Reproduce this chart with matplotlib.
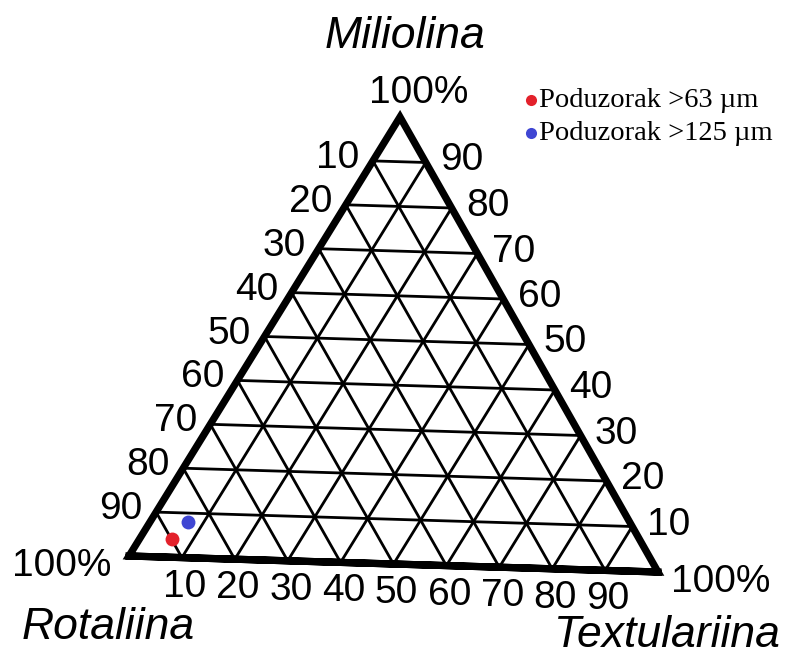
import numpy as np
import matplotlib
matplotlib.use("Agg")
import matplotlib.pyplot as plt

# ---- data (percentages: Rotaliina, Textulariina, Miliolina) ----
series_names = ["Poduzorak >63 µm", "Poduzorak >125 µm"]
rotaliina = [90, 85]
textulariina = [6, 7]
miliolina = [4, 8]
series_colors = ["#e3212b", "#3f46d3"]
ticks = [10, 20, 30, 40, 50, 60, 70, 80, 90]
corner_names = ["Rotaliina", "Textulariina", "Miliolina"]

# ---- layout (pixel space of the figure) ----
W, H = 803, 655
fig = plt.figure(figsize=(W / 100, H / 100), dpi=100)
ax = fig.add_axes([0, 0, 1, 1])
ax.set_xlim(0, W)
ax.set_ylim(H, 0)
ax.axis("off")

Rv = np.array([129.0, 556.0])   # Rotaliina corner
Tv = np.array([658.0, 572.0])   # Textulariina corner
Mv = np.array([400.0, 117.0])   # Miliolina corner


def tern(r, t, m):
    s = r + t + m
    return (r * Rv + t * Tv + m * Mv) / s


FONT = "Liberation Sans"
fs_tick = 28
fs_title = 32

# grid lines
for k in ticks:
    f = k / 100.0
    segs = [
        (tern(1 - f, 0, f), tern(0, 1 - f, f)),   # constant Miliolina
        (tern(f, 0, 1 - f), tern(f, 1 - f, 0)),   # constant Rotaliina
        (tern(1 - f, f, 0), tern(0, f, 1 - f)),   # constant Textulariina
    ]
    for a, b in segs:
        ax.plot([a[0], b[0]], [a[1], b[1]], color="black", lw=2.0,
                solid_capstyle="butt", zorder=2)

# border
tri = np.array([Rv, Tv, Mv, Rv, Tv])
ax.plot(tri[:, 0], tri[:, 1], color="black", lw=5.2,
        solid_joinstyle="miter", zorder=3)

# tick labels
for k in ticks:
    f = k / 100.0
    # left edge: Rotaliina
    p = tern(f, 0, 1 - f)
    ax.text(p[0] - 35, p[1] + 7, str(k), fontsize=fs_tick, family=FONT,
            ha="center", va="baseline")
    # right edge: Miliolina
    p = tern(0, 1 - f, f)
    ax.text(p[0] + 36, p[1] + 8, str(k), fontsize=fs_tick, family=FONT,
            ha="center", va="baseline")
    # bottom edge: Textulariina
    p = tern(1 - f, f, 0)
    ax.text(p[0] + 3, p[1] + 39, str(k), fontsize=fs_tick, family=FONT,
            ha="center", va="baseline")

# corner 100% labels
ax.text(Mv[0] + 19, Mv[1] - 14, "100%", fontsize=fs_tick, family=FONT,
        ha="center", va="baseline")
ax.text(Rv[0] - 67, Rv[1] + 20, "100%", fontsize=fs_tick, family=FONT,
        ha="center", va="baseline")
ax.text(Tv[0] + 63, Tv[1] + 20, "100%", fontsize=fs_tick, family=FONT,
        ha="center", va="baseline")

# corner names
ax.text(Mv[0] + 5, 48, corner_names[2], fontsize=fs_title, family=FONT,
        style="italic", ha="center", va="baseline")
ax.text(Rv[0] - 21, 639, corner_names[0], fontsize=fs_title, family=FONT,
        style="italic", ha="center", va="baseline")
ax.text(Tv[0] + 9, 647, corner_names[1], fontsize=fs_title, family=FONT,
        style="italic", ha="center", va="baseline")

# data points
for r, t, m, c in zip(rotaliina, textulariina, miliolina, series_colors):
    p = tern(r, t, m)
    ax.plot(p[0], p[1], "o", color=c, markersize=10, mec="none", zorder=5)

# legend
for i, (name, c) in enumerate(zip(series_names, series_colors)):
    y = 100 + 33 * i
    ax.plot(531, y, "o", color=c, markersize=8, mec="none")
    ax.text(539, y + 7, name, fontsize=20.5, family="Liberation Serif",
            ha="left", va="baseline")

fig.savefig("out.png", dpi=100)
